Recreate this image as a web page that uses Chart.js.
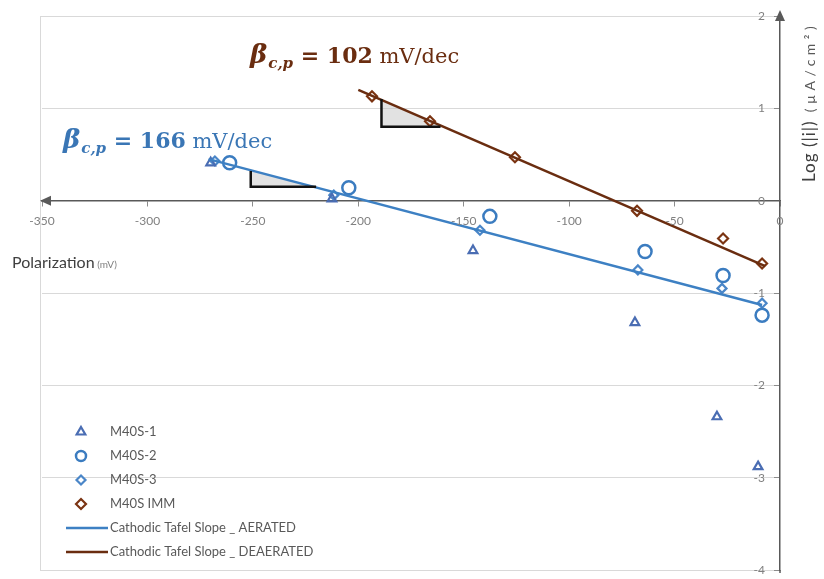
<!DOCTYPE html>
<html>
<head>
<meta charset="utf-8">
<script src="https://cdn.jsdelivr.net/npm/chart.js@4"></script>
<style>
  html, body { margin: 0; padding: 0; background: #fff; }
  #wrap { width: 824px; height: 579px; }
</style>
</head>
<body>
<div id="wrap"><canvas id="chart" width="824" height="579"></canvas></div>
<script>
// values (x = polarization in mV, y = log|i|)
const m40s1X = [-270, -212.5, -145.6, -68.8, -29.9, -10.4];
const m40s1Y = [0.41, 0.02, -0.54, -1.32, -2.34, -2.88];
const m40s2X = [-261, -204.5, -137.6, -64, -27, -8.5];
const m40s2Y = [0.41, 0.14, -0.17, -0.55, -0.81, -1.24];
const m40s3X = [-268, -211.6, -142.3, -67.4, -27.5, -8.5];
const m40s3Y = [0.43, 0.06, -0.32, -0.75, -0.95, -1.11];
const immX = [-193.5, -166, -125.7, -67.8, -27, -8.5];
const immY = [1.13, 0.86, 0.47, -0.11, -0.41, -0.68];

const aeratedX = [-271, -8.5];
const aeratedY = [0.45, -1.13];
const deaeratedX = [-200, -7];
const deaeratedY = [1.20, -0.71];

// slope triangles (corner, right angle, end)
const slopeAerX = [-251, -251, -220];
const slopeAerY = [0.32, 0.15, 0.15];
const slopeDeaX = [-189, -189, -161];
const slopeDeaY = [1.10, 0.80, 0.80];

const seriesNames = ['M40S-1', 'M40S-2', 'M40S-3', 'M40S IMM',
  'Cathodic Tafel Slope _ AERATED', 'Cathodic Tafel Slope _ DEAERATED'];
const slopeValues = ['166', '102'];

const xMin = -350, xMax = 0, xStep = 50;
const yMin = -4, yMax = 2, yStep = 1;
const xTickLabels = [-350, -300, -250, -200, -150, -100, -50, 0];
const yTickLabels = [-4, -3, -2, -1, 0, 1, 2];

const BLUE = '#3d80c3';
const BROWN = '#6a2d10';

function pts(xs, ys) {
    return xs.map((x, i) => ({ x: x, y: ys[i] }));
}

// gray shading inside the slope triangles
const shadePlugin = {
    id: 'shade',
    beforeDatasetsDraw(chart) {
        const ctx = chart.ctx;
        const sx = chart.scales.x, sy = chart.scales.y;
        [[slopeAerX, slopeAerY], [slopeDeaX, slopeDeaY]].forEach(function(t) {
            ctx.save();
            ctx.beginPath();
            t[0].forEach(function(x, i) {
                const px = sx.getPixelForValue(x), py = sy.getPixelForValue(t[1][i]);
                if (i === 0) ctx.moveTo(px, py); else ctx.lineTo(px, py);
            });
            ctx.closePath();
            ctx.fillStyle = 'rgba(190,190,190,0.45)';
            ctx.fill();
            ctx.restore();
        });
    }
};

const decorPlugin = {
    id: 'decor',
    beforeDraw(chart) {
        const ctx = chart.ctx, a = chart.chartArea;
        ctx.save();
        ctx.fillStyle = '#fff';
        ctx.fillRect(0, 0, chart.width, chart.height);
        ctx.strokeStyle = '#d9d9d9';
        ctx.lineWidth = 1;
        ctx.strokeRect(a.left - 1.5, a.top + 0.5, a.right - a.left + 1, a.bottom - a.top);
        ctx.restore();
    },
    afterDraw(chart) {
        const ctx = chart.ctx, a = chart.chartArea;
        const sx = chart.scales.x, sy = chart.scales.y;
        const x0 = sx.getPixelForValue(0), y0 = sy.getPixelForValue(0);
        ctx.save();

        // tick labels: y inside the plot left of the axis, x under the axis line
        ctx.fillStyle = '#808080';
        ctx.font = '12px Lato';
        ctx.textAlign = 'right';
        ctx.textBaseline = 'middle';
        yTickLabels.forEach(function(v) {
            ctx.fillText(String(v), x0 - 15, sy.getPixelForValue(v));
        });
        ctx.textAlign = 'center';
        xTickLabels.forEach(function(v) {
            ctx.fillText(String(v), sx.getPixelForValue(v), y0 + 20);
        });

        // axis arrows
        ctx.fillStyle = '#595959';
        ctx.beginPath();
        ctx.moveTo(a.left - 2, y0);
        ctx.lineTo(a.left + 9, y0 - 5);
        ctx.lineTo(a.left + 9, y0 + 5);
        ctx.closePath();
        ctx.fill();
        ctx.beginPath();
        ctx.moveTo(x0, a.top - 6);
        ctx.lineTo(x0 - 5, a.top + 5);
        ctx.lineTo(x0 + 5, a.top + 5);
        ctx.closePath();
        ctx.fill();
        ctx.strokeStyle = '#595959';
        ctx.lineWidth = 1.5;
        ctx.beginPath();
        ctx.moveTo(x0, a.bottom);
        ctx.lineTo(x0, a.bottom + 3);
        ctx.stroke();

        // slope annotations
        function beta(x, y, color, value) {
            ctx.fillStyle = color;
            ctx.textBaseline = 'alphabetic';
            ctx.textAlign = 'left';
            ctx.font = 'italic bold 26px "DejaVu Serif"';
            ctx.fillText('\u03B2', x, y);
            x += ctx.measureText('\u03B2').width + 1;
            ctx.font = 'italic bold 15px "DejaVu Serif"';
            ctx.fillText('c,p', x, y + 5);
            x += ctx.measureText('c,p').width;
            ctx.font = 'bold 22px "DejaVu Serif"';
            ctx.fillText(' = ' + value, x, y);
            x += ctx.measureText(' = ' + value).width;
            ctx.font = '21px "DejaVu Serif"';
            ctx.fillText(' mV/dec', x, y);
        }
        beta(63, 148, '#3a76b5', slopeValues[0]);
        beta(250, 63, BROWN, slopeValues[1]);

        // axis titles
        ctx.textAlign = 'left';
        ctx.fillStyle = '#404040';
        ctx.textBaseline = 'alphabetic';
        ctx.font = '16px Lato';
        ctx.fillText('Polarization', 12, 268);
        let w = ctx.measureText('Polarization').width;
        ctx.fillStyle = '#7f7f7f';
        ctx.font = '10px Lato';
        ctx.fillText(' (mV)', 12 + w, 268);

        ctx.save();
        ctx.translate(815, 182);
        ctx.rotate(-Math.PI / 2);
        ctx.fillStyle = '#404040';
        ctx.font = '17px Lato';
        ctx.letterSpacing = '1px';
        ctx.fillText('Log (|i|)', 0, 0);
        w = ctx.measureText('Log (|i|)').width;
        ctx.fillStyle = '#595959';
        ctx.font = '14px Lato';
        ctx.letterSpacing = '4.5px';
        ctx.fillText(' (\u00B5A/cm\u00B2)', w, 0);
        ctx.letterSpacing = '0px';
        ctx.restore();

        // legend
        const lx = 81, ly = 432, step = 24;
        ctx.font = '13px Lato';
        ctx.textBaseline = 'middle';
        chart.data.datasets.slice(0, 6).forEach(function(ds, i) {
            const y = ly + i * step;
            ctx.save();
            if (ds.showLine) {
                ctx.strokeStyle = ds.borderColor;
                ctx.lineWidth = ds.borderWidth;
                ctx.beginPath();
                ctx.moveTo(lx - 15, y);
                ctx.lineTo(lx + 27, y);
                ctx.stroke();
            } else {
                ctx.strokeStyle = ds.pointBorderColor;
                ctx.fillStyle = '#fff';
                ctx.lineWidth = ds.pointBorderWidth;
                Chart.helpers.drawPoint(ctx, {
                    pointStyle: ds.pointStyle,
                    radius: ds.legendRadius,
                    borderWidth: ds.pointBorderWidth,
                    rotation: 0
                }, lx, y);
            }
            ctx.restore();
            ctx.fillStyle = '#595959';
            ctx.fillText(ds.label, 110, y);
        });
        ctx.restore();
    }
};

function markerSet(label, xs, ys, style, color, radius, bw, legendRadius) {
    return {
        label: label,
        data: pts(xs, ys),
        showLine: false,
        pointStyle: style,
        pointRadius: radius,
        pointBorderWidth: bw,
        pointBorderColor: color,
        pointBackgroundColor: 'rgba(255,255,255,0)',
        borderColor: color,
        legendRadius: legendRadius,
        order: 2
    };
}

function lineSet(label, xs, ys, color, width, order) {
    return {
        label: label,
        data: pts(xs, ys),
        showLine: true,
        borderColor: color,
        borderWidth: width,
        pointRadius: 0,
        fill: false,
        order: order
    };
}

new Chart(document.getElementById('chart').getContext('2d'), {
    type: 'scatter',
    data: {
        datasets: [
            markerSet(seriesNames[0], m40s1X, m40s1Y, 'triangle', '#4a6db3', 5, 2.2, 5),
            markerSet(seriesNames[1], m40s2X, m40s2Y, 'circle', '#3b7cc0', 6.5, 2.5, 5),
            markerSet(seriesNames[2], m40s3X, m40s3Y, 'rectRot', '#4a86c8', 4.5, 2.2, 4.5),
            markerSet(seriesNames[3], immX, immY, 'rectRot', '#7b3412', 5, 2.2, 5),
            lineSet(seriesNames[4], aeratedX, aeratedY, BLUE, 2.5, 1),
            lineSet(seriesNames[5], deaeratedX, deaeratedY, BROWN, 2.5, 1),
            lineSet('slope aerated', slopeAerX, slopeAerY, '#111', 2.5, 0),
            lineSet('slope deaerated', slopeDeaX, slopeDeaY, '#111', 2.5, 0)
        ]
    },
    options: {
        responsive: false,
        animation: false,
        layout: { padding: { left: 42, right: 44, top: 16, bottom: 5 } },
        plugins: {
            legend: { display: false },
            tooltip: { enabled: false }
        },
        scales: {
            x: {
                type: 'linear',
                position: { y: 0 },
                min: xMin,
                max: xMax,
                ticks: { display: false, stepSize: xStep },
                grid: { drawOnChartArea: false, drawTicks: true, tickLength: 5, color: '#8c8c8c' },
                border: { color: '#595959', width: 1.5 }
            },
            y: {
                type: 'linear',
                position: { x: 0 },
                min: yMin,
                max: yMax,
                ticks: { display: false, stepSize: yStep },
                grid: { color: '#d9d9d9', tickLength: 5, tickColor: '#8c8c8c' },
                border: { color: '#595959', width: 1.5 }
            }
        }
    },
    plugins: [shadePlugin, decorPlugin]
});
</script>
</body>
</html>
